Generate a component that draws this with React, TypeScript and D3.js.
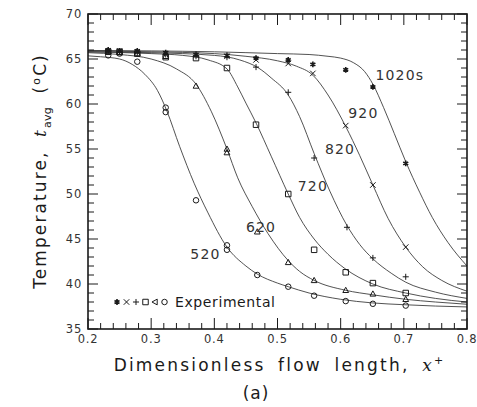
import React from "react";
import * as d3 from "d3";

// ---------- data ----------
const X_TICKS = [0.2, 0.3, 0.4, 0.5, 0.6, 0.7, 0.8];
const Y_TICKS = [35, 40, 45, 50, 55, 60, 65, 70];
const X_TICK_LABELS = ["0.2", "0.3", "0.4", "0.5", "0.6", "0.7", "0.8"];
const Y_TICK_LABELS = ["35", "40", "45", "50", "55", "60", "65", "70"];

const CURVE_LABELS = ["520", "620", "720", "820", "920", "1020s"];
const MARKERS = ["circle", "triangle", "square", "plus", "times", "star"];

const curve520: [number, number][] = [
  [0.2, 65.35], [0.22, 65.25], [0.25, 65.0], [0.27, 64.4], [0.29, 63.3], [0.31, 61.5],
  [0.325, 59.2], [0.345, 55.3], [0.368, 51.2], [0.39, 47.9], [0.42, 44.1], [0.45, 42.0],
  [0.468, 41.1], [0.5, 40.1], [0.517, 39.7], [0.55, 39.0], [0.6, 38.3], [0.65, 37.9],
  [0.7, 37.7], [0.75, 37.55], [0.8, 37.45],
];
const curve620: [number, number][] = [
  [0.2, 65.7], [0.25, 65.5], [0.3, 65.0], [0.34, 63.9], [0.371, 62.2], [0.395, 59.2],
  [0.42, 55.0], [0.437, 51.8], [0.46, 48.6], [0.485, 45.6], [0.517, 42.6], [0.535, 41.4],
  [0.558, 40.4], [0.608, 39.3], [0.651, 38.8], [0.703, 38.3], [0.75, 38.0], [0.8, 37.75],
];
const curve720: [number, number][] = [
  [0.2, 65.8], [0.3, 65.6], [0.35, 65.4], [0.39, 64.9], [0.42, 63.9], [0.437, 61.9],
  [0.45, 60.1], [0.466, 57.9], [0.49, 54.2], [0.517, 50.0], [0.535, 47.4], [0.558, 45.0],
  [0.58, 43.3], [0.607, 41.7], [0.651, 40.0], [0.703, 39.0], [0.75, 38.4], [0.8, 38.0],
];
const curve820: [number, number][] = [
  [0.2, 65.8], [0.3, 65.7], [0.4, 65.4], [0.44, 64.9], [0.47, 64.0], [0.49, 62.9],
  [0.517, 61.0], [0.535, 58.6], [0.558, 54.5], [0.583, 50.3], [0.61, 46.5], [0.63, 44.4],
  [0.651, 42.8], [0.68, 41.2], [0.703, 40.2], [0.75, 39.1], [0.8, 38.4],
];
const curve920: [number, number][] = [
  [0.2, 65.9], [0.3, 65.8], [0.4, 65.6], [0.45, 65.3], [0.5, 64.8], [0.53, 64.2],
  [0.556, 63.2], [0.58, 61.0], [0.608, 57.5], [0.63, 54.3], [0.651, 51.0], [0.675, 47.3],
  [0.703, 44.1], [0.73, 41.9], [0.76, 40.4], [0.8, 39.2],
];
const curve1020: [number, number][] = [
  [0.2, 65.95], [0.3, 65.9], [0.4, 65.8], [0.5, 65.6], [0.55, 65.5], [0.58, 65.3],
  [0.6, 65.1], [0.62, 64.6], [0.638, 63.6], [0.651, 62.2], [0.668, 59.6], [0.685, 56.7],
  [0.703, 53.6], [0.725, 50.2], [0.745, 47.4], [0.77, 44.6], [0.8, 42.0],
];

const exp520: [number, number][] = [
  [0.232, 65.4], [0.25, 65.6], [0.278, 64.7], [0.323, 59.6], [0.323, 59.1], [0.371, 49.3],
  [0.42, 44.3], [0.42, 43.8], [0.468, 41.0], [0.517, 39.7], [0.558, 38.7], [0.608, 38.1],
  [0.651, 37.8], [0.703, 37.6],
];
const exp620: [number, number][] = [
  [0.232, 65.8], [0.25, 65.7], [0.278, 65.6], [0.323, 65.3], [0.371, 62.0], [0.42, 55.0],
  [0.42, 54.6], [0.468, 45.8], [0.517, 42.4], [0.558, 40.4], [0.608, 39.3], [0.651, 38.9],
  [0.703, 38.3],
];
const exp720: [number, number][] = [
  [0.232, 65.8], [0.25, 65.8], [0.278, 65.6], [0.323, 65.2], [0.371, 65.1], [0.42, 64.0],
  [0.466, 57.7], [0.517, 50.0], [0.558, 43.8], [0.608, 41.3], [0.651, 40.1], [0.703, 39.0],
];
const exp820: [number, number][] = [
  [0.232, 65.9], [0.25, 65.8], [0.278, 65.7], [0.323, 65.5], [0.371, 65.3], [0.42, 65.2],
  [0.466, 64.1], [0.517, 61.3], [0.558, 54.0], [0.61, 46.3], [0.651, 42.9], [0.703, 40.8],
];
const exp920: [number, number][] = [
  [0.232, 65.9], [0.25, 65.9], [0.278, 65.8], [0.323, 65.6], [0.371, 65.4], [0.42, 65.3],
  [0.466, 64.9], [0.517, 64.5], [0.556, 63.4], [0.608, 57.6], [0.651, 51.0], [0.703, 44.1],
];
const exp1020: [number, number][] = [
  [0.232, 66.0], [0.25, 65.9], [0.278, 65.9], [0.323, 65.7], [0.371, 65.5], [0.42, 65.4],
  [0.466, 65.1], [0.517, 64.9], [0.556, 64.4], [0.608, 63.8], [0.651, 61.9], [0.703, 53.4],
];

const CURVES = [curve520, curve620, curve720, curve820, curve920, curve1020];
const EXPS = [exp520, exp620, exp720, exp820, exp920, exp1020];

// label anchor positions (data coords) for each curve label
const LABEL_POS: [number, number][] = [
  [0.362, 42.8], [0.45, 45.8], [0.532, 50.3], [0.575, 54.4], [0.612, 58.5], [0.655, 62.7],
];

// ---------- layout ----------
const W = 477, H = 407;
const M = { left: 88, right: 10, top: 14, bottom: 78 };

function markerPath(type: string, s: number): string {
  const h = s / 2;
  switch (type) {
    case "circle":
      return `M${h},0A${h},${h} 0 1,1 ${-h},0A${h},${h} 0 1,1 ${h},0Z`;
    case "square":
      return `M${-h},${-h}H${h}V${h}H${-h}Z`;
    case "triangle":
      return `M0,${-h * 1.1}L${h * 1.05},${h * 0.8}L${-h * 1.05},${h * 0.8}Z`;
    case "triangleLeft":
      return `M${-h * 1.1},0L${h * 0.8},${-h * 1.05}L${h * 0.8},${h * 1.05}Z`;
    case "plus":
      return `M${-h * 1.1},0H${h * 1.1}M0,${-h * 1.1}V${h * 1.1}`;
    case "times":
      return `M${-h},${-h}L${h},${h}M${-h},${h}L${h},${-h}`;
    case "star": {
      const r = h * 1.05;
      const a = r * 0.866, b = r * 0.5;
      return `M0,${-r}V${r}M${-a},${-b}L${a},${b}M${-a},${b}L${a},${-b}`;
    }
  }
  return "";
}

export default function App() {
  const x = d3.scaleLinear().domain([0.2, 0.8]).range([M.left, W - M.right]);
  const y = d3.scaleLinear().domain([35, 70]).range([H - M.bottom, M.top]);
  const line = d3
    .line<[number, number]>()
    .x((d) => x(d[0]))
    .y((d) => y(d[1]))
    .curve(d3.curveMonotoneX);

  const xMinor = d3.range(0, 31).map((i) => 0.2 + i * 0.02);
  const yMinor = d3.range(35, 71, 1);
  const x0 = x(0.2), x1 = x(0.8), y0 = y(35), y1 = y(70);
  const font = "'DejaVu Sans', 'Liberation Sans', Arial, sans-serif";
  const ink = "#1a1a1a";

  return (
    <svg
      width={W}
      height={H}
      viewBox={`0 0 ${W} ${H}`}
      style={{ position: "absolute", left: 0, top: 0, background: "#fff" }}
    >
      <rect width={W} height={H} fill="#fff" />
      {/* curves */}
      <g fill="none" stroke="#333" strokeWidth={0.85}>
        {CURVES.map((c, i) => (
          <path key={i} d={line(c) || ""} />
        ))}
      </g>
      {/* experimental markers */}
      {EXPS.map((pts, i) => (
        <g key={i}>
          {pts.map((p, j) => (
            <path
              key={j}
              transform={`translate(${x(p[0])},${y(p[1])})`}
              d={markerPath(MARKERS[i], 5.5)}
              fill={MARKERS[i] === "star" ? ink : "none"}
              stroke={ink}
              strokeWidth={MARKERS[i] === "star" ? 1.6 : 1}
            />
          ))}
        </g>
      ))}
      {/* curve labels */}
      <g fontFamily={font} fontSize={14} fill="#333" letterSpacing={1.2}>
        {CURVE_LABELS.map((t, i) => (
          <text key={t} x={x(LABEL_POS[i][0])} y={y(LABEL_POS[i][1])}>
            {t}
          </text>
        ))}
      </g>
      {/* legend */}
      <g>
        {MARKERS.slice()
          .reverse()
          .map((m, i) => (
            <path
              key={m}
              transform={`translate(${117 + i * 9.5},${302})`}
              d={markerPath(m === "triangle" ? "triangleLeft" : m, 5.5)}
              fill={m === "star" ? ink : "none"}
              stroke={ink}
              strokeWidth={m === "star" ? 1.6 : 1}
            />
          ))}
        <text x={175} y={307} fontFamily={font} fontSize={14} fill={ink} letterSpacing={0.6}>
          Experimental
        </text>
      </g>
      {/* frame */}
      <rect x={x0} y={y1} width={x1 - x0} height={y0 - y1} fill="none" stroke={ink} strokeWidth={1.6} />
      {/* ticks */}
      <g stroke={ink} strokeWidth={1}>
        {xMinor.map((v, i) => {
          const major = i % 5 === 0;
          const len = major ? 11 : 6;
          return (
            <g key={i}>
              <line x1={x(v)} x2={x(v)} y1={y0} y2={y0 - len} />
              <line x1={x(v)} x2={x(v)} y1={y1} y2={y1 + len} />
            </g>
          );
        })}
        {yMinor.map((v) => {
          const major = v % 5 === 0;
          const len = major ? 10 : 6;
          return (
            <g key={v}>
              <line x1={x0} x2={x0 + len} y1={y(v)} y2={y(v)} />
              <line x1={x1} x2={x1 - len} y1={y(v)} y2={y(v)} />
            </g>
          );
        })}
      </g>
      {/* tick labels */}
      <g fontFamily={font} fontSize={11.5} fill="#333" letterSpacing={0.8}>
        {X_TICKS.map((v, i) => (
          <text key={v} x={x(v)} y={y0 + 14} textAnchor="middle">
            {X_TICK_LABELS[i]}
          </text>
        ))}
        {Y_TICKS.map((v, i) => (
          <text key={v} x={x0 - 6} y={y(v) + 4} textAnchor="end">
            {Y_TICK_LABELS[i]}
          </text>
        ))}
      </g>
      {/* axis titles */}
      <text
        x={(x0 + x1) / 2 + 2}
        y={371}
        textAnchor="middle"
        fontFamily={font}
        fontSize={17}
        fill={ink}
        letterSpacing={2.2}
        wordSpacing={5}
      >
        Dimensionless flow length,{" "}
        <tspan fontFamily="'DejaVu Serif', 'Liberation Serif', serif" fontStyle="italic">
          x
        </tspan>
        <tspan fontSize={11} dy={-7}>+</tspan>
      </text>
      <text x={256} y={399} textAnchor="middle" fontFamily={font} fontSize={17} fill={ink} letterSpacing={1}>
        (a)
      </text>
      <text
        transform={`translate(46,${171}) rotate(-90)`}
        textAnchor="middle"
        fontFamily={font}
        fontSize={17}
        fill={ink}
        letterSpacing={2.1}
        wordSpacing={6}
      >
        Temperature,{" "}
        <tspan fontFamily="'DejaVu Serif', 'Liberation Serif', serif" fontStyle="italic">t</tspan>
        <tspan fontSize={11} dy={5} letterSpacing={0.3}>avg</tspan>
        <tspan dy={-5}>{"  ("}</tspan>
        <tspan fontSize={11} dy={-6}>o</tspan>
        <tspan dy={6}>{"C)"}</tspan>
      </text>
    </svg>
  );
}
